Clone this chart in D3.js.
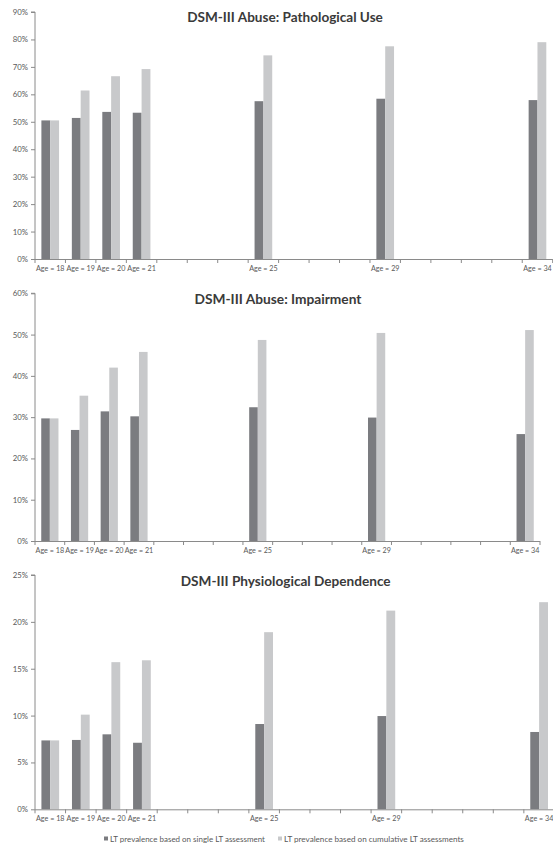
<!DOCTYPE html>
<html>
<head>
<meta charset="utf-8">
<script src="https://cdn.jsdelivr.net/npm/d3@7"></script>
<style>
  html, body { margin: 0; padding: 0; background: #fff; }
  svg { display: block; }
  text { font-family: Lato, "Open Sans", "DejaVu Sans", sans-serif; }
</style>
</head>
<body>
<svg id="chart" width="553" height="846"></svg>
<script>
// ---- Data ----
const categories = ["18","19","20","21","22","23","24","25","26","27","28","29","30","31","32","33","34"];
const labeledAges = ["18","19","20","21","25","29","34"];
const dataAges = ["18","19","20","21","25","29","34"];

const seriesNames = ["LT prevalence based on single LT assessment", "LT prevalence based on cumulative LT assessments"];

const pathSingle = [50.5, 51.4, 53.6, 53.3, 57.5, 58.4, 57.9];
const pathCum    = [50.5, 61.4, 66.6, 69.2, 74.2, 77.5, 79.0];
const impSingle  = [29.7, 26.9, 31.4, 30.2, 32.4, 29.9, 25.9];
const impCum     = [29.7, 35.2, 42.0, 45.8, 48.7, 50.4, 51.1];
const depSingle  = [7.35, 7.4, 8.0, 7.1, 9.1, 9.95, 8.25];
const depCum     = [7.35, 10.1, 15.7, 15.9, 18.9, 21.2, 22.1];

const titles = ["DSM-III Abuse: Pathological Use", "DSM-III Abuse: Impairment", "DSM-III Physiological Dependence"];
const yTicks1 = [0,10,20,30,40,50,60,70,80,90];
const yTicks2 = [0,10,20,30,40,50,60];
const yTicks3 = [0,5,10,15,20,25];

// ---- Layout ----
const colors = ["#7b7c80", "#c8c9cb"];
const panels = [
  { title: titles[0], single: pathSingle, cum: pathCum, ticks: yTicks1, x0: 35, x1: 552.7, yBottom: 259,   yTop: 12,    titleX: 285, titleY: 22,  titleW: 196 },
  { title: titles[1], single: impSingle,  cum: impCum,  ticks: yTicks2, x0: 35, x1: 540,   yBottom: 541,   yTop: 293.3, titleX: 278, titleY: 304, titleW: 167 },
  { title: titles[2], single: depSingle,  cum: depCum,  ticks: yTicks3, x0: 35, x1: 554.4, yBottom: 809.3, yTop: 575,   titleX: 285.7, titleY: 586, titleW: 210 }
];

const svg = d3.select("#chart");
const axisColor = "#8a8a8a";
const textColor = "#595959";

function fitText(t, base, target) {
  const w = t.node().getComputedTextLength();
  if (w > 0) t.style("font-size", (base * target / w).toFixed(2) + "px");
}

panels.forEach(p => {
  const g = svg.append("g");
  const x = d3.scaleBand().domain(categories).range([p.x0, p.x1]).paddingInner(0).paddingOuter(0);
  const yMax = p.ticks[p.ticks.length - 1];
  const y = d3.scaleLinear().domain([0, yMax]).range([p.yBottom, p.yTop]);
  const bw = x.bandwidth();
  const xs = d3.scaleBand().domain([0, 1]).range([bw * 0.21, bw * 0.79]).padding(0);

  // bars
  const rows = dataAges.map((a, i) => ({ age: a, vals: [p.single[i], p.cum[i]] }));
  const grp = g.selectAll("g.cat").data(rows).enter().append("g")
    .attr("transform", d => `translate(${x(d.age)},0)`);
  grp.selectAll("rect").data(d => d.vals.map((v, k) => ({ v, k }))).enter().append("rect")
    .attr("x", d => xs(d.k))
    .attr("width", xs.bandwidth())
    .attr("y", d => y(d.v))
    .attr("height", d => y(0) - y(d.v))
    .attr("fill", d => colors[d.k]);

  // y axis
  const yAxis = d3.axisLeft(y).tickValues(p.ticks).tickFormat(d => d + "%").tickSize(4).tickPadding(3);
  const ya = g.append("g").attr("transform", `translate(${p.x0},0)`).call(yAxis);
  ya.select(".domain").attr("stroke", axisColor).attr("d", `M-4,${y(yMax)}H0V${y(0)}`);
  ya.selectAll(".tick line").attr("stroke", axisColor);
  ya.selectAll(".tick text").attr("fill", textColor).style("font-size", "7.8px").style("font-family", "Lato, sans-serif");

  // x axis line
  g.append("line").attr("x1", p.x0).attr("x2", p.x1).attr("y1", y(0) + 0.5).attr("y2", y(0) + 0.5)
    .attr("stroke", axisColor);
  // boundary ticks
  const bounds = categories.map(c => x(c)).concat([p.x1]);
  g.selectAll("line.xt").data(bounds).enter().append("line")
    .attr("x1", d => d).attr("x2", d => d)
    .attr("y1", y(0)).attr("y2", y(0) + 4)
    .attr("stroke", axisColor);
  // x labels
  g.selectAll("text.xl").data(labeledAges).enter().append("text")
    .attr("x", d => x(d) + bw / 2)
    .attr("y", y(0) + 11.5)
    .attr("text-anchor", "middle")
    .attr("fill", textColor)
    .style("font-size", "7.2px")
    .text(d => "Age = " + d);

  // title
  const t = g.append("text")
    .attr("x", p.titleX).attr("y", p.titleY)
    .attr("text-anchor", "middle")
    .attr("fill", "#3a3a3a")
    .style("font-size", "13px").style("font-weight", "bold")
    .text(p.title);
  fitText(t, 13, p.titleW);
});

// legend
const legendX = [104, 278];
const legendW = [155, 180];
const lg = svg.append("g");
seriesNames.forEach((name, i) => {
  lg.append("rect").attr("x", legendX[i]).attr("y", 836.5).attr("width", 4).attr("height", 4).attr("fill", colors[i]);
  const t = lg.append("text").attr("x", legendX[i] + 6).attr("y", 841.5)
    .attr("fill", textColor).style("font-size", "7px").text(name);
  fitText(t, 7, legendW[i]);
});
</script>
</body>
</html>
